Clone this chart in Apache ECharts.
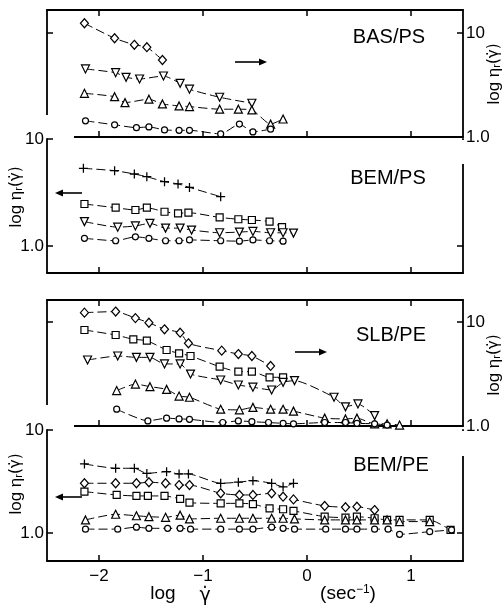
<!DOCTYPE html>
<html><head><meta charset="utf-8">
<script src="https://cdn.jsdelivr.net/npm/echarts@6/dist/echarts.min.js"></script>
<style>html,body{margin:0;padding:0;background:#fff}#c{width:503px;height:608px}</style>
</head><body><div id="c"></div><script>
// ---- x tick values (log shear rate) ----
const xTicks = [-2, -1, 0, 1];
// ---- BAS/PS (right axis, upper panel) ----
const basDiaX = [-2.14, -1.85, -1.66, -1.54, -1.39];
const basDiaY = [12.4, 8.9, 7.7, 7.3, 5.5];
const basInvX = [-2.13, -1.84, -1.74, -1.61, -1.38, -1.22, -1.13, -0.84, -0.53];
const basInvY = [4.51, 4.15, 3.75, 3.61, 3.86, 3.28, 2.88, 2.41, 2.11];
const basTriX = [-2.14, -1.85, -1.75, -1.52, -1.39, -1.23, -1.13, -0.84, -0.66, -0.53, -0.35, -0.23];
const basTriY = [2.63, 2.44, 2.14, 2.31, 2.08, 1.99, 1.96, 1.85, 1.85, 1.82, 1.33, 1.49];
const basCirX = [-2.13, -1.85, -1.64, -1.52, -1.37, -1.23, -1.13, -0.83, -0.65, -0.52, -0.35];
const basCirY = [1.43, 1.31, 1.23, 1.25, 1.17, 1.16, 1.16, 1.07, 1.33, 1.12, 1.19];
// ---- BEM/PS (left axis) ----
const bpsPlusX = [-2.15, -1.85, -1.66, -1.54, -1.37, -1.24, -1.13, -0.83];
const bpsPlusY = [5.32, 5.06, 4.71, 4.44, 3.99, 3.80, 3.53, 2.89];
const bpsSqX = [-2.14, -1.84, -1.65, -1.54, -1.37, -1.24, -1.14, -0.84, -0.66, -0.53, -0.36, -0.24];
const bpsSqY = [2.47, 2.28, 2.17, 2.28, 2.09, 2.02, 2.05, 1.85, 1.78, 1.75, 1.69, 1.50];
const bpsInvX = [-2.14, -1.82, -1.65, -1.51, -1.36, -1.22, -1.11, -0.84, -0.65, -0.52, -0.35, -0.23, -0.13];
const bpsInvY = [1.69, 1.50, 1.54, 1.63, 1.47, 1.47, 1.41, 1.33, 1.35, 1.37, 1.33, 1.33, 1.32];
const bpsCirX = [-2.14, -1.84, -1.65, -1.52, -1.36, -1.23, -1.13, -0.83, -0.65, -0.52, -0.36, -0.23];
const bpsCirY = [1.18, 1.12, 1.22, 1.18, 1.12, 1.12, 1.14, 1.12, 1.11, 1.14, 1.12, 1.11];
// ---- SLB/PE (right axis, lower panel) ----
const slbDiaX = [-2.14, -1.84, -1.65, -1.52, -1.37, -1.22, -1.14, -0.82, -0.66, -0.53, -0.35];
const slbDiaY = [12.3, 12.6, 10.9, 9.84, 8.51, 7.89, 6.24, 5.30, 4.92, 4.71, 3.78];
const slbSqX = [-2.14, -1.84, -1.67, -1.54, -1.35, -1.23, -1.12, -0.84, -0.66, -0.53, -0.36, -0.23];
const slbSqY = [8.38, 7.50, 6.82, 6.61, 5.38, 5.00, 4.71, 3.72, 3.33, 3.33, 2.94, 2.94];
const slbInvX = [-2.11, -1.82, -1.64, -1.51, -1.37, -1.22, -1.12, -0.83, -0.66, -0.52, -0.34, -0.23, -0.12, 0.26, 0.37, 0.49, 0.65];
const slbInvY = [4.31, 4.71, 4.57, 4.57, 3.95, 3.95, 3.16, 2.77, 2.48, 2.36, 2.22, 2.63, 2.73, 1.89, 1.53, 1.63, 1.26];
const slbTriX = [-1.83, -1.65, -1.51, -1.35, -1.23, -1.13, -0.83, -0.65, -0.52, -0.35, -0.23, -0.13, 0.17, 0.37, 0.48, 0.65, 0.77, 0.89];
const slbTriY = [2.19, 2.53, 2.39, 2.25, 1.94, 1.89, 1.45, 1.43, 1.51, 1.45, 1.45, 1.39, 1.19, 1.17, 1.19, 1.05, 1.05, 1.02];
const slbCirX = [-1.83, -1.53, -1.35, -1.23, -1.13, -0.81, -0.66, -0.53, -0.37, -0.23, -0.13, 0.17, 0.37, 0.48, 0.65, 0.77];
const slbCirY = [1.45, 1.12, 1.19, 1.17, 1.16, 1.08, 1.12, 1.10, 1.08, 1.06, 1.05, 1.08, 1.08, 1.06, 1.05, 1.02];
// ---- BEM/PE (left axis, lower panel) ----
const bpePlusX = [-2.14, -1.84, -1.66, -1.54, -1.35, -1.23, -1.14, -0.83, -0.66, -0.52, -0.34, -0.23, -0.13];
const bpePlusY = [4.68, 4.25, 4.25, 3.79, 3.94, 3.74, 3.74, 3.04, 3.11, 3.22, 3.04, 2.81, 3.04];
const bpeDiaX = [-2.14, -1.84, -1.64, -1.52, -1.36, -1.23, -1.13, -0.83, -0.65, -0.52, -0.34, -0.23, -0.13, 0.17, 0.37, 0.48, 0.65];
const bpeDiaY = [3.04, 3.04, 3.04, 3.11, 3.04, 2.92, 2.92, 2.43, 2.34, 2.34, 2.43, 2.25, 2.12, 1.83, 1.78, 1.80, 1.67];
const bpeSqX = [-2.14, -1.83, -1.64, -1.53, -1.37, -1.22, -1.13, -0.83, -0.65, -0.52, -0.36, -0.23, -0.13, 0.17, 0.37, 0.48, 0.65, 0.77, 0.89, 1.18, 1.38];
const bpeSqY = [2.52, 2.34, 2.29, 2.29, 2.29, 2.14, 1.97, 1.94, 1.94, 1.91, 1.73, 1.70, 1.64, 1.44, 1.41, 1.44, 1.39, 1.34, 1.34, 1.34, 1.07];
const bpeTriX = [-2.13, -1.84, -1.64, -1.52, -1.36, -1.22, -1.13, -0.83, -0.65, -0.52, -0.34, -0.23, -0.12, 0.17, 0.37, 0.48, 0.65, 0.77, 0.89, 1.18];
const bpeTriY = [1.34, 1.52, 1.47, 1.44, 1.42, 1.49, 1.37, 1.39, 1.39, 1.39, 1.39, 1.39, 1.37, 1.34, 1.34, 1.34, 1.34, 1.34, 1.29, 1.29];
const bpeCirX = [-2.13, -1.82, -1.64, -1.52, -1.34, -1.22, -1.12, -0.83, -0.65, -0.52, -0.34, -0.23, -0.12, 0.18, 0.37, 0.48, 0.65, 0.78, 0.89, 1.18, 1.39];
const bpeCirY = [1.09, 1.09, 1.14, 1.11, 1.11, 1.11, 1.09, 1.09, 1.09, 1.09, 1.14, 1.11, 1.09, 1.09, 1.09, 1.09, 1.09, 1.09, 0.97, 1.03, 1.07];

const chart = echarts.init(document.getElementById('c'), null, {renderer: 'canvas'});
const FONT = 'Liberation Sans';
const GFONT = 'DejaVu Sans';
const L = 47, W = 416;
const grids = [
  {left: L, width: W, top: 10, height: 127},
  {left: L, width: W, top: 139, height: 134},
  {left: L, width: W, top: 300, height: 126},
  {left: L, width: W, top: 430, height: 131}
];
const lineCol = '#000';
function xAx(gi, pos, labels) {
  return {
    type: 'value', gridIndex: gi, position: pos, min: -2.5, max: 1.5,
    axisLine: {show: true, onZero: false, lineStyle: {color: lineCol, width: 1.8}},
    axisTick: {show: true, inside: true, length: 6, customValues: xTicks, lineStyle: {color: lineCol, width: 1.5}},
    axisLabel: labels ? {show: true, customValues: xTicks, color: '#000', fontSize: 17, fontFamily: FONT, margin: 7,
      formatter: v => (v < 0 ? '\u2212' + Math.abs(v) : String(v))} : {show: false},
    splitLine: {show: false}
  };
}
function yAx(gi, pos, min, max, tickVals, labels) {
  return {
    type: 'value', gridIndex: gi, position: pos, min: min, max: max,
    axisLine: {show: true, onZero: false, lineStyle: {color: lineCol, width: 1.8}},
    axisTick: {show: tickVals.length > 0, inside: true, length: 6, customValues: tickVals, lineStyle: {color: lineCol, width: 1.5}},
    axisLabel: labels ? {show: true, customValues: [0, 1], color: '#000', fontSize: 17, fontFamily: FONT, margin: 3,
      formatter: v => (v === 0 ? '1.0' : '10')} : {show: false},
    splitLine: {show: false}
  };
}
const xAxes = [
  xAx(0, 'bottom', false), xAx(0, 'top', false),
  xAx(1, 'bottom', false),
  xAx(2, 'bottom', false), xAx(2, 'top', false),
  xAx(3, 'bottom', true)
];
const yAxes = [
  yAx(0, 'right', 0, 1.221, [0, 1], true),
  yAx(0, 'left', 0, 1.221, [1], false),
  yAx(1, 'left', -0.252, 1, [0, 1], true),
  yAx(1, 'right', -0.252, 1, [0], false),
  yAx(2, 'right', 0, 1.2115, [0, 1], true),
  yAx(2, 'left', 0, 1.2115, [1], false),
  yAx(3, 'left', -0.272, 1, [0, 1], true),
  yAx(3, 'right', -0.272, 1, [0], false)
];
const PLUS = 'path://M0,4.3H10V5.7H0Z M4.3,0H5.7V10H4.3Z';
const SYM = {
  cir: {symbol: 'circle', size: 6, rot: 0},
  tri: {symbol: 'triangle', size: 8, rot: 0},
  inv: {symbol: 'triangle', size: 8, rot: 180},
  sq: {symbol: 'rect', size: 7, rot: 0},
  dia: {symbol: 'diamond', size: [8, 9], rot: 0},
  plus: {symbol: PLUS, size: 9, rot: 0}
};
function ser(xi, yi, xs, ys, kind) {
  const s = SYM[kind];
  const isPlus = kind === 'plus';
  return {
    type: 'line', xAxisIndex: xi, yAxisIndex: yi,
    data: xs.map((x, i) => [x, Math.log10(ys[i])]),
    symbol: s.symbol, symbolSize: s.size, symbolRotate: s.rot, showSymbol: true,
    smooth: 0.2, silent: true, animation: false,
    lineStyle: {color: '#000', width: 1, type: [9, 4]},
    itemStyle: isPlus ? {color: '#000', borderWidth: 0} : {color: '#fff', borderColor: '#000', borderWidth: 1.2}
  };
}
const series = [
  ser(0, 0, basDiaX, basDiaY, 'dia'),
  ser(0, 0, basInvX, basInvY, 'inv'),
  ser(0, 0, basTriX, basTriY, 'tri'),
  ser(0, 0, basCirX, basCirY, 'cir'),
  ser(2, 2, bpsPlusX, bpsPlusY, 'plus'),
  ser(2, 2, bpsSqX, bpsSqY, 'sq'),
  ser(2, 2, bpsInvX, bpsInvY, 'inv'),
  ser(2, 2, bpsCirX, bpsCirY, 'cir'),
  ser(3, 4, slbDiaX, slbDiaY, 'dia'),
  ser(3, 4, slbSqX, slbSqY, 'sq'),
  ser(3, 4, slbInvX, slbInvY, 'inv'),
  ser(3, 4, slbTriX, slbTriY, 'tri'),
  ser(3, 4, slbCirX, slbCirY, 'cir'),
  ser(5, 6, bpePlusX, bpePlusY, 'plus'),
  ser(5, 6, bpeDiaX, bpeDiaY, 'dia'),
  ser(5, 6, bpeSqX, bpeSqY, 'sq'),
  ser(5, 6, bpeTriX, bpeTriY, 'tri'),
  ser(5, 6, bpeCirX, bpeCirY, 'cir')
];
function title(txt, x, y) {
  return {type: 'text', x: x, y: y, style: {text: txt, fill: '#000', font: '20px "' + FONT + '"', textAlign: 'center', textVerticalAlign: 'middle'}};
}
function yName(x, y) {
  return {type: 'text', x: x, y: y, rotation: Math.PI / 2,
    style: {text: '{a|log \u03b7}{s|r}{g|(\u03b3\u0307)}', textAlign: 'center', textVerticalAlign: 'middle',
      rich: {a: {fontSize: 17, fontFamily: FONT, fill: '#000'},
             g: {fontSize: 15, fontFamily: GFONT, fill: '#000'},
             s: {fontSize: 11, fontFamily: FONT, fill: '#000', verticalAlign: 'bottom', padding: [6, 0, 0, 0]}}}};
}
function arrow(x1, x2, y) {
  const dir = x2 > x1 ? 1 : -1;
  return {type: 'group', children: [
    {type: 'line', shape: {x1: x1, y1: y, x2: x2 - dir * 3, y2: y}, style: {stroke: '#000', lineWidth: 1.6}},
    {type: 'polygon', shape: {points: [[x2, y], [x2 - dir * 8, y - 3.5], [x2 - dir * 8, y + 3.5]]}, style: {fill: '#000'}}
  ]};
}
function gap(x, y, w, h) {
  return {type: 'rect', z: 100, shape: {x: x, y: y, width: w, height: h}, style: {fill: '#fff'}};
}
const graphics = [
  title('BAS/PS', 389, 37), title('BEM/PS', 388, 178), title('SLB/PE', 391, 335), title('BEM/PE', 391, 465),
  yName(16, 197), yName(16, 484), yName(494, 74), yName(494, 365),
  arrow(235, 267, 62), arrow(82, 55, 193), arrow(295, 327, 352), arrow(82, 55, 497),
  gap(44, 115, 30, 23), gap(459, 140, 8, 24),
  gap(44, 405, 30, 23), gap(459, 431, 8, 25),
  {type: 'text', x: 163, y: 594, style: {text: 'log', fill: '#000', font: '19px "' + FONT + '"', textAlign: 'center', textVerticalAlign: 'middle'}},
  {type: 'text', x: 205, y: 596, style: {text: '\u03b3\u0307', fill: '#000', font: '19px "' + GFONT + '"', textAlign: 'center', textVerticalAlign: 'middle'}},
  {type: 'text', x: 348, y: 594, style: {text: '(sec{s|\u22121})', fill: '#000', font: '19px "' + FONT + '"', textAlign: 'center', textVerticalAlign: 'middle',
    rich: {s: {fontSize: 12, fontFamily: FONT, fill: '#000', verticalAlign: 'top', padding: [0, 0, 8, 0]}}}}
];
chart.setOption({
  animation: false,
  backgroundColor: '#fff',
  grid: grids,
  xAxis: xAxes,
  yAxis: yAxes,
  series: series,
  graphic: graphics
});
</script></body></html>
